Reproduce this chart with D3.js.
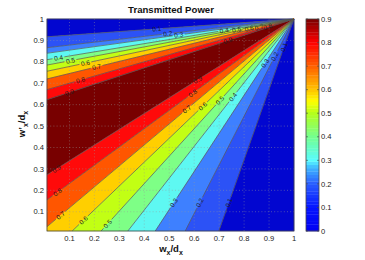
<!DOCTYPE html>
<html>
<head>
<meta charset="utf-8">
<script src="https://cdn.jsdelivr.net/npm/d3@7"></script>
<style>
  body { margin: 0; background: #fff; }
  text { font-family: "Liberation Sans", Arial, sans-serif; }
</style>
</head>
<body>
<svg id="chart" width="365" height="260"></svg>
<script>
// contour levels of the filled plot
const levels = [0.1, 0.2, 0.3, 0.4, 0.5, 0.6, 0.7, 0.8, 0.9];
// upper family: y where each level line leaves the left edge (all lines run to (1,1))
const upperStartY = [0.917, 0.866, 0.84, 0.81, 0.785, 0.756, 0.72, 0.67, 0.623];
// lower family: [x, y] where each level line leaves the bottom / left edge
const lowerStart = [[0.699, 0.01], [0.564, 0.01], [0.444, 0.01], [0.334, 0.01], [0.227, 0.01],
                    [0.111, 0.01], [0.01, 0.03], [0.01, 0.155], [0.01, 0.272]];
// x positions of the inline contour labels, per level
const upperLabelX = [[0.45], [0.494], [0.538], [0.056, 0.72], [0.104, 0.77], [0.164, 0.82],
                     [0.209, 0.86], [0.144, 0.895], [0.1, 0.735]];
const lowerLabelX = [[0.739, 0.96], [0.622, 0.923], [0.518, 0.884], [0.755], [0.253, 0.703],
                     [0.156, 0.634], [0.064, 0.57], [0.052, 0.594], [0.048, 0.614]];
// fill colour of each band: below 0.1, 0.1-0.2, ..., above 0.9
const bandColors = ['#0206d0', '#2c52f6', '#3e80ff', '#5ef8f2', '#7eff86', '#c2ff14',
                    '#ffcf00', '#ff5600', '#ff0a0a', '#780000'];
const axisTicks = [0.1, 0.2, 0.3, 0.4, 0.5, 0.6, 0.7, 0.8, 0.9, 1];
const cbarTicks = [0, 0.1, 0.2, 0.3, 0.4, 0.5, 0.6, 0.7, 0.8, 0.9];
const cbarStopV = [0, 0.1, 0.2, 0.27, 0.3, 0.4, 0.5, 0.55, 0.6, 0.7, 0.8, 0.9];
const cbarStopC = ['#0000f2', '#0414ff', '#2a5cff', '#40b8ff', '#58fcff', '#74ff90',
                   '#b4ff1c', '#ffff00', '#ffc400', '#ff6000', '#ff0000', '#7a0000'];

const lo = 0.01, hi = 1;
const svg = d3.select('#chart');
const x = d3.scaleLinear().domain([lo, hi]).range([47, 294]);
const y = d3.scaleLinear().domain([lo, hi]).range([231, 19]);
const span = hi - lo;

// walk around the plot border: 0 = apex (1,1), 1 = top-left, 2 = bottom-left, 3 = bottom-right, 4 = apex
function borderPoint(s) {
  if (s <= 1) return [hi - s * span, hi];
  if (s <= 2) return [lo, hi - (s - 1) * span];
  if (s <= 3) return [lo + (s - 2) * span, lo];
  return [hi, lo + (s - 3) * span];
}
function borderPos(p) {
  if (p[0] <= lo + 1e-9) return 1 + (hi - p[1]) / span;
  return 2 + (p[0] - lo) / span;
}

const lines = [];
levels.forEach((lv, i) => lines.push({ level: lv, start: [lo, upperStartY[i]], labels: upperLabelX[i] }));
for (let i = levels.length - 1; i >= 0; i--) {
  lines.push({ level: levels[i], start: lowerStart[i], labels: lowerLabelX[i] });
}
const cuts = [0].concat(lines.map(l => borderPos(l.start)), [4]);
const bandIdx = [0, 1, 2, 3, 4, 5, 6, 7, 8, 9, 8, 7, 6, 5, 4, 3, 2, 1, 0];

const plot = svg.append('g');
const clip = svg.append('clipPath').attr('id', 'pclip');
clip.append('rect').attr('x', x(lo)).attr('y', y(hi)).attr('width', x(hi) - x(lo)).attr('height', y(lo) - y(hi));

// filled bands
for (let k = 0; k < cuts.length - 1; k++) {
  const a = cuts[k], b = cuts[k + 1];
  const pts = [[hi, hi], borderPoint(a)];
  [1, 2, 3].forEach(c => { if (c > a && c < b) pts.push(borderPoint(c)); });
  pts.push(borderPoint(b));
  plot.append('path')
    .attr('d', d3.line().x(d => x(d[0])).y(d => y(d[1]))(pts) + 'Z')
    .attr('fill', bandColors[bandIdx[k]])
    .attr('stroke', bandColors[bandIdx[k]])
    .attr('stroke-width', 0.4);
}

// grid
const grid = svg.append('g').attr('stroke', '#9a9a9a').attr('stroke-width', 0.6)
  .attr('stroke-dasharray', '1,2.2').attr('opacity', 0.8);
axisTicks.filter(t => t < hi).forEach(t => {
  grid.append('line').attr('x1', x(t)).attr('x2', x(t)).attr('y1', y(lo)).attr('y2', y(hi));
  grid.append('line').attr('x1', x(lo)).attr('x2', x(hi)).attr('y1', y(t)).attr('y2', y(t));
});

// contour lines with gaps for labels
const lineG = svg.append('g').attr('clip-path', 'url(#pclip)');
const labelG = svg.append('g').attr('clip-path', 'url(#pclip)');
lines.forEach(l => {
  const x0 = x(l.start[0]), y0 = y(l.start[1]), x1 = x(hi), y1 = y(hi);
  const len = Math.hypot(x1 - x0, y1 - y0);
  const ang = Math.atan2(y1 - y0, x1 - x0) * 180 / Math.PI;
  const gap = 6;
  const ds = l.labels.map(lx => (lx - l.start[0]) / (hi - l.start[0]) * len).sort((p, q) => p - q);
  let from = 0;
  const segs = [];
  ds.forEach(d => { segs.push([from, d - gap]); from = d + gap; });
  segs.push([from, len]);
  segs.filter(s => s[1] > s[0]).forEach(s => {
    lineG.append('line')
      .attr('x1', x0 + (x1 - x0) * s[0] / len).attr('y1', y0 + (y1 - y0) * s[0] / len)
      .attr('x2', x0 + (x1 - x0) * s[1] / len).attr('y2', y0 + (y1 - y0) * s[1] / len)
      .attr('stroke', '#555').attr('stroke-width', 0.7);
  });
  ds.forEach(d => {
    const px = x0 + (x1 - x0) * d / len, py = y0 + (y1 - y0) * d / len;
    labelG.append('text')
      .attr('transform', `translate(${px},${py}) rotate(${ang})`)
      .attr('text-anchor', 'middle').attr('dy', '0.35em')
      .attr('font-size', 6.5).attr('fill', '#222')
      .text(d3.format('.1f')(l.level));
  });
});

// frame and axes
svg.append('rect').attr('x', x(lo)).attr('y', y(hi)).attr('width', x(hi) - x(lo)).attr('height', y(lo) - y(hi))
  .attr('fill', 'none').attr('stroke', '#444').attr('stroke-width', 0.8);

const xAxis = svg.append('g');
axisTicks.forEach(t => {
  xAxis.append('text').attr('x', x(t)).attr('y', 241).attr('text-anchor', 'middle')
    .attr('font-size', 7.6).attr('fill', '#222').text(d3.format('~g')(t));
});
const yAxis = svg.append('g');
axisTicks.forEach(t => {
  yAxis.append('text').attr('x', 44).attr('y', y(t)).attr('dy', '0.35em').attr('text-anchor', 'end')
    .attr('font-size', 7.6).attr('fill', '#222').text(d3.format('~g')(t));
});

// title and axis titles
svg.append('text').attr('x', 171).attr('y', 12.5).attr('text-anchor', 'middle')
  .attr('font-size', 9.6).attr('font-weight', 'bold').attr('fill', '#111').text('Transmitted Power');

const xl = svg.append('text').attr('x', 171).attr('y', 252).attr('text-anchor', 'middle')
  .attr('font-size', 9.5).attr('font-weight', 'bold').attr('fill', '#111');
xl.append('tspan').text('w');
xl.append('tspan').attr('font-size', 7).attr('dy', 2.5).text('x');
xl.append('tspan').attr('dy', -2.5).text('/d');
xl.append('tspan').attr('font-size', 7).attr('dy', 2.5).text('x');

const yl = svg.append('text').attr('transform', 'translate(25,124) rotate(-90)').attr('text-anchor', 'middle')
  .attr('font-size', 9.5).attr('font-weight', 'bold').attr('fill', '#111');
yl.append('tspan').text('w\u2019');
yl.append('tspan').attr('font-size', 7).attr('dy', 2.5).text('x');
yl.append('tspan').attr('dy', -2.5).text('/d');
yl.append('tspan').attr('font-size', 7).attr('dy', 2.5).text('x');

// colorbar
const cy = d3.scaleLinear().domain([0, 0.9]).range([231, 19]);
const cmap = d3.scaleLinear().domain(cbarStopV).range(cbarStopC).interpolate(d3.interpolateRgb);
const nSteps = 64;
const cbar = svg.append('g');
d3.range(nSteps).forEach(i => {
  const v0 = 0.9 * i / nSteps, v1 = 0.9 * (i + 1) / nSteps;
  cbar.append('rect').attr('x', 306).attr('width', 13)
    .attr('y', cy(v1)).attr('height', cy(v0) - cy(v1) + 0.3)
    .attr('fill', cmap((v0 + v1) / 2));
});
cbar.append('rect').attr('x', 306).attr('y', cy(0.9)).attr('width', 13).attr('height', cy(0) - cy(0.9))
  .attr('fill', 'none').attr('stroke', '#444').attr('stroke-width', 0.8);
cbarTicks.forEach(t => {
  cbar.append('line').attr('x1', 306).attr('x2', 308).attr('y1', cy(t)).attr('y2', cy(t)).attr('stroke', '#444').attr('stroke-width', 0.6);
  cbar.append('line').attr('x1', 317).attr('x2', 319).attr('y1', cy(t)).attr('y2', cy(t)).attr('stroke', '#444').attr('stroke-width', 0.6);
  cbar.append('text').attr('x', 321).attr('y', cy(t)).attr('dy', '0.35em')
    .attr('font-size', 7.6).attr('fill', '#222').text(d3.format('~g')(t));
});
</script>
</body>
</html>
